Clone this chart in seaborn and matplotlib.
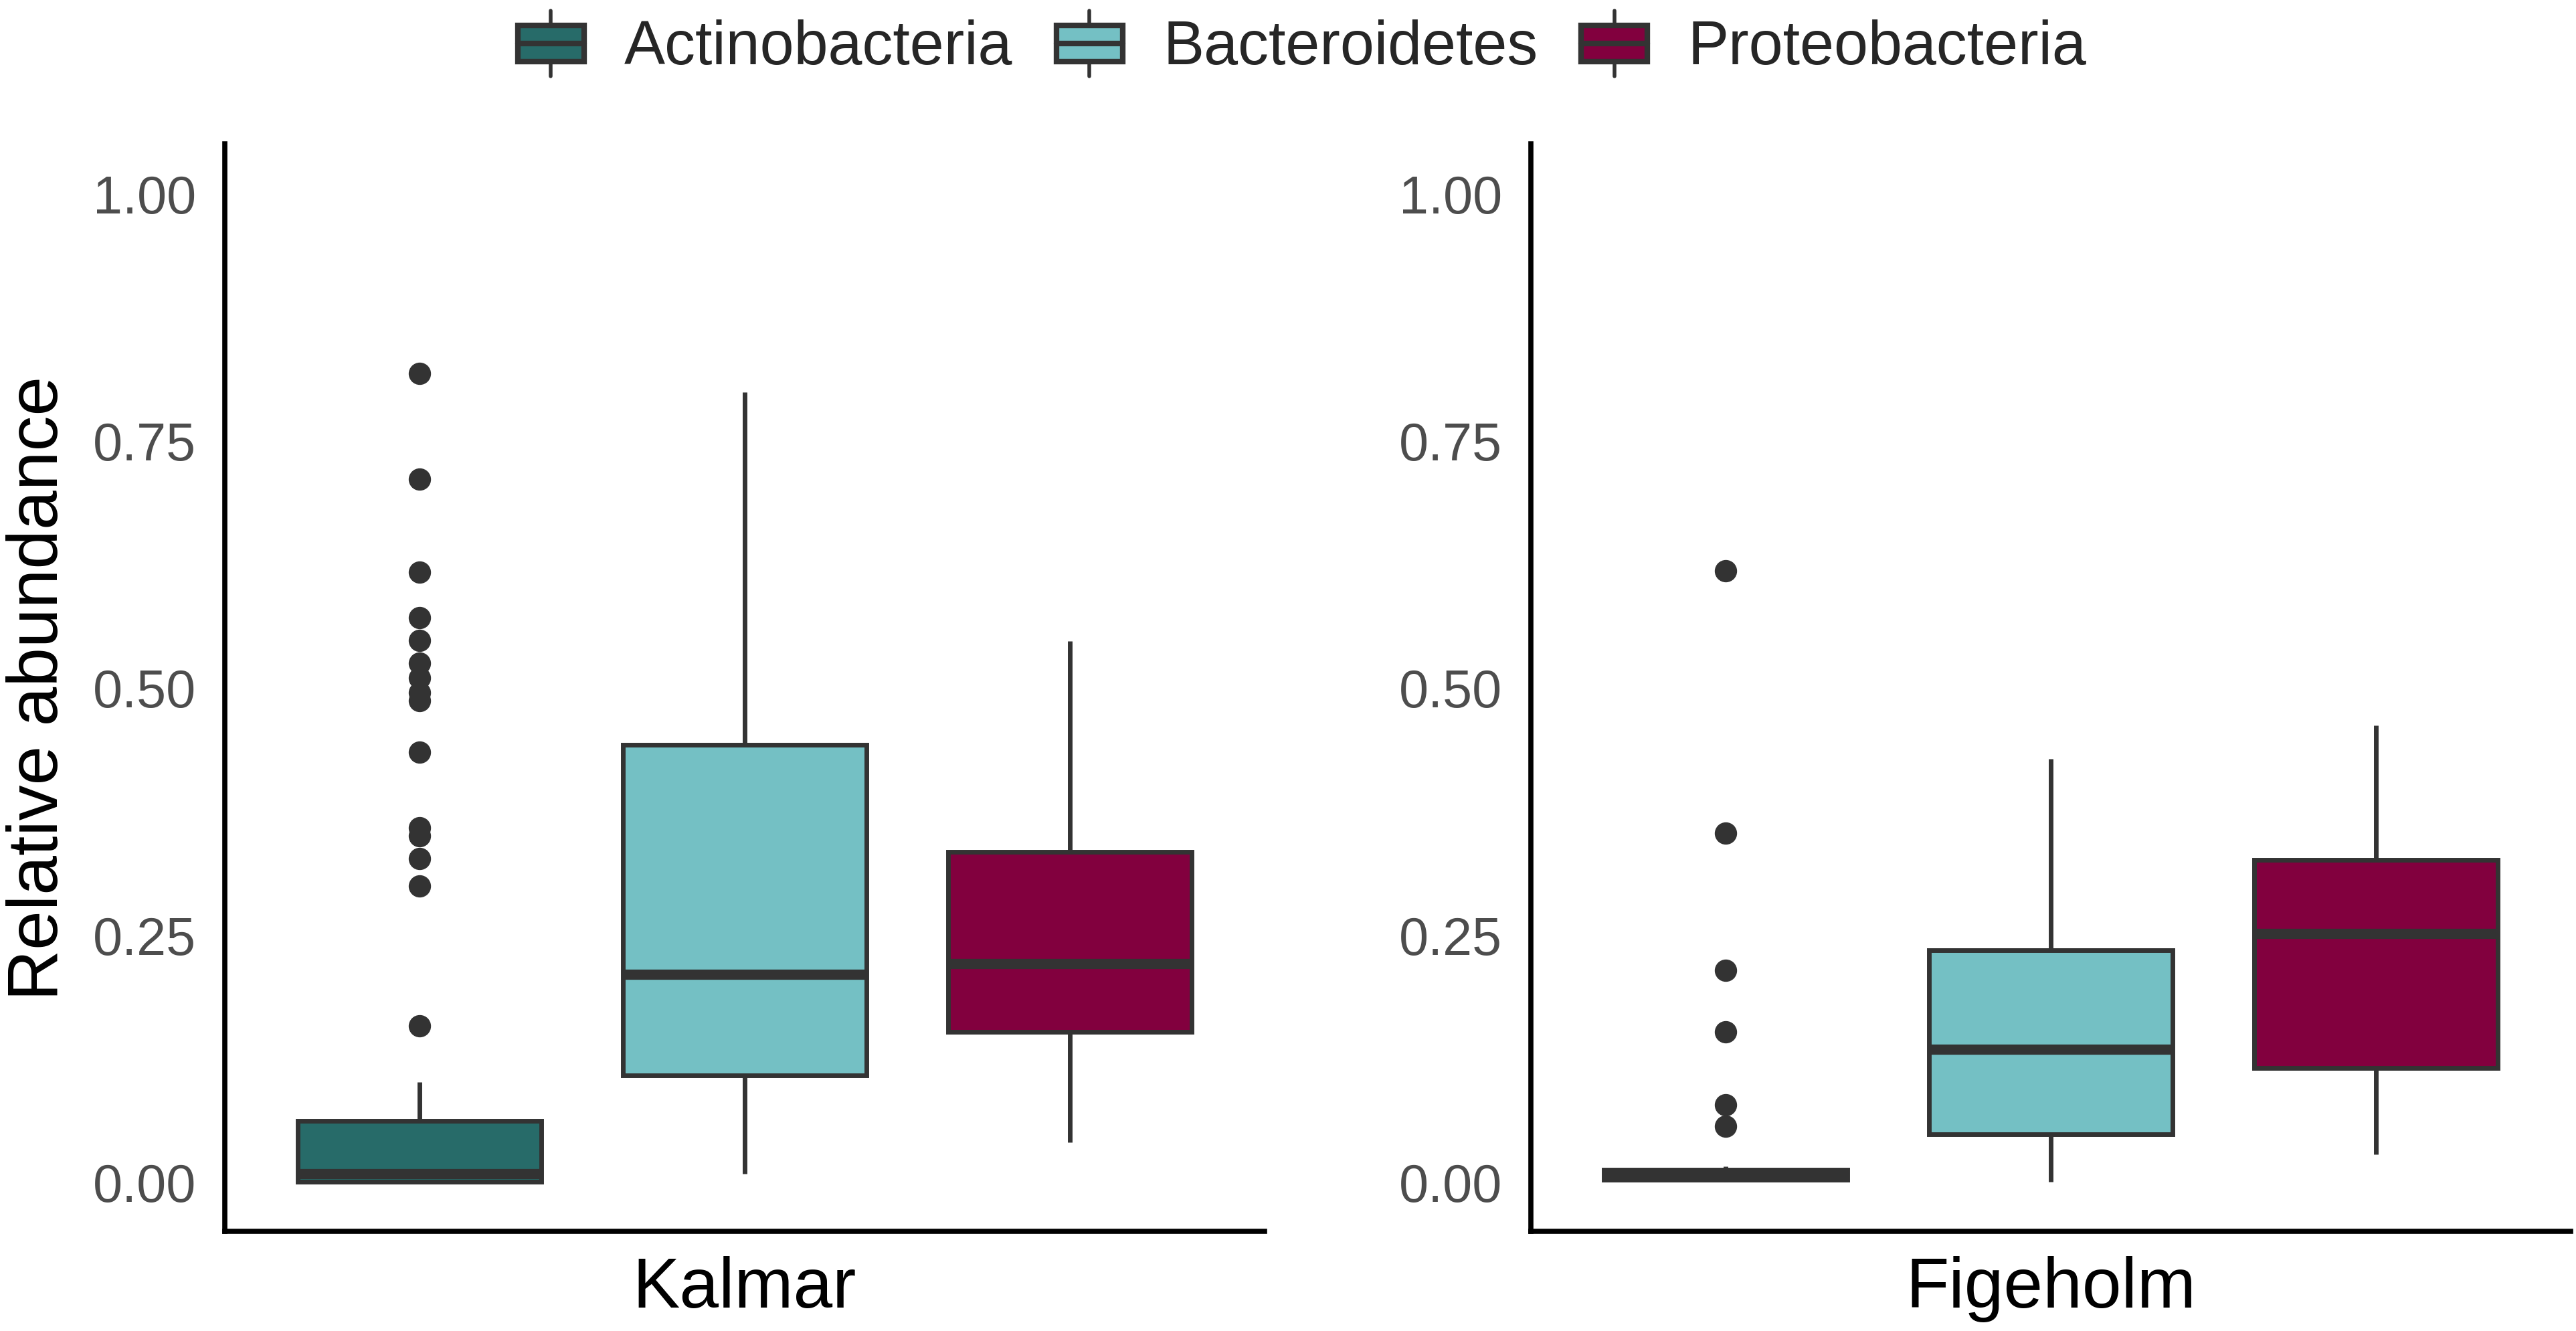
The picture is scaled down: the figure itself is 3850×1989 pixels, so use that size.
import numpy as np
import pandas as pd
import matplotlib
matplotlib.use("Agg")
import matplotlib.pyplot as plt
from matplotlib.patches import Patch, Rectangle
from matplotlib.lines import Line2D
from matplotlib.legend_handler import HandlerBase
import seaborn as sns

# ---------------- data ----------------
phyla = ["Actinobacteria", "Bacteroidetes", "Proteobacteria"]
sites = ["Kalmar", "Figeholm"]
colors = ["#276B69", "#74C0C4", "#82003E"]

# box statistics: [lower whisker, Q1, median, Q3, upper whisker]
kalmar_actino_box = [0.000, 0.000, 0.008, 0.062, 0.101]
kalmar_actino_out = [0.158, 0.299, 0.327, 0.350, 0.358, 0.435, 0.487, 0.495,
                     0.510, 0.525, 0.548, 0.571, 0.617, 0.711, 0.818]
kalmar_bacte_box = [0.008, 0.108, 0.210, 0.442, 0.799]
kalmar_bacte_out = []
kalmar_prote_box = [0.040, 0.152, 0.221, 0.334, 0.547]
kalmar_prote_out = []

figeholm_actino_box = [0.000, 0.002, 0.007, 0.012, 0.016]
figeholm_actino_out = [0.056, 0.078, 0.152, 0.214, 0.353, 0.618]
figeholm_bacte_box = [0.000, 0.048, 0.134, 0.234, 0.428]
figeholm_bacte_out = []
figeholm_prote_box = [0.028, 0.115, 0.251, 0.326, 0.462]
figeholm_prote_out = []

yticks = [0.00, 0.25, 0.50, 0.75, 1.00]
ytick_labels = ["0.00", "0.25", "0.50", "0.75", "1.00"]

stats = {
    ("Kalmar", "Actinobacteria"): (kalmar_actino_box, kalmar_actino_out),
    ("Kalmar", "Bacteroidetes"): (kalmar_bacte_box, kalmar_bacte_out),
    ("Kalmar", "Proteobacteria"): (kalmar_prote_box, kalmar_prote_out),
    ("Figeholm", "Actinobacteria"): (figeholm_actino_box, figeholm_actino_out),
    ("Figeholm", "Bacteroidetes"): (figeholm_bacte_box, figeholm_bacte_out),
    ("Figeholm", "Proteobacteria"): (figeholm_prote_box, figeholm_prote_out),
}


def sample_from_stats(box, out):
    """Sorted sample whose linear quartiles / whiskers reproduce the box."""
    lo, q1, med, q3, hi = box
    k = len(out) + 1
    vals = [lo] + [q1] * k + [med] * k + [q3] * k + [hi] + sorted(out)
    return vals


rows = []
for (site, ph), (box, out) in stats.items():
    for v in sample_from_stats(box, out):
        rows.append({"site": site, "phylum": ph, "value": v})
df = pd.DataFrame(rows)

# ---------------- style ----------------
sns.set_style("white")
plt.rcParams["font.family"] = ["Liberation Sans", "DejaVu Sans"]

LINE = "#333333"
fig = plt.figure(figsize=(38.5, 19.9), dpi=100)

ax_w = 1554 / 3850
ax_h = 1625 / 1990
ax_b = 1 - 1841 / 1990
lefts = [336 / 3850, 2288 / 3850]

palette = dict(zip(phyla, colors))

for site, left in zip(sites, lefts):
    ax = fig.add_axes([left, ax_b, ax_w, ax_h])
    sub = df[df["site"] == site]
    sns.boxplot(data=sub, x="phylum", y="value", hue="phylum", order=phyla,
                hue_order=phyla, palette=palette, saturation=1, width=0.75,
                linewidth=5, linecolor=LINE, showcaps=False, fliersize=23,
                legend=False,
                flierprops=dict(marker="o", markerfacecolor=LINE,
                                markeredgecolor=LINE, markersize=23),
                medianprops=dict(linewidth=11, color=LINE),
                ax=ax)
    ax.set_ylim(-0.05, 1.05)
    ax.set_xlim(-0.6, 2.6)
    ax.set_yticks(yticks)
    ax.set_yticklabels(ytick_labels)
    ax.set_xticks(range(len(phyla)))
    ax.set_xticklabels([])
    ax.set_ylabel("")
    ax.set_xlabel(site, fontsize=76, color="black")
    ax.xaxis.set_label_coords(0.5, -0.022)
    for s in ["top", "right"]:
        ax.spines[s].set_visible(False)
    for s in ["left", "bottom"]:
        ax.spines[s].set_linewidth(5.5)
        ax.spines[s].set_color("black")
    ax.tick_params(axis="both", which="major", length=13, width=5,
                   color=LINE, labelsize=57, labelcolor="#4D4D4D", pad=18)
    ax.set_facecolor("white")

fig.text(59 / 3850, 1 - 1028 / 1990, "Relative abundance", rotation=90,
         ha="center", va="center", fontsize=76, color="black")


class BoxKeyHandler(HandlerBase):
    def create_artists(self, legend, orig_handle, xdescent, ydescent,
                       width, height, fontsize, trans):
        x0, y0 = -xdescent, -ydescent
        fc = orig_handle.get_facecolor()
        xc = x0 + 0.5 * width
        w1 = Line2D([xc, xc], [y0 + 0.05 * height, y0 + 0.25 * height],
                    color=LINE, lw=4, transform=trans)
        w2 = Line2D([xc, xc], [y0 + 0.75 * height, y0 + 0.95 * height],
                    color=LINE, lw=4, transform=trans)
        rect = Rectangle((x0 + 0.14 * width, y0 + 0.25 * height),
                         0.72 * width, 0.5 * height, facecolor=fc,
                         edgecolor=LINE, lw=6, transform=trans)
        med = Line2D([x0 + 0.14 * width, x0 + 0.86 * width],
                     [y0 + 0.5 * height] * 2, color=LINE, lw=6,
                     transform=trans)
        return [w1, w2, rect, med]


handles = [Patch(facecolor=c, edgecolor=LINE) for c in colors]
fig.legend(handles=handles, labels=phyla, loc="center",
           bbox_to_anchor=(0.503, 1 - 66 / 1990), ncol=3, frameon=False,
           fontsize=66, handler_map={Patch: BoxKeyHandler()},
           handlelength=1.5, handleheight=1.45, handletextpad=0.45,
           columnspacing=0.5, borderpad=0.0, borderaxespad=0.0)

fig.savefig("out.png", dpi=100, facecolor="white")
